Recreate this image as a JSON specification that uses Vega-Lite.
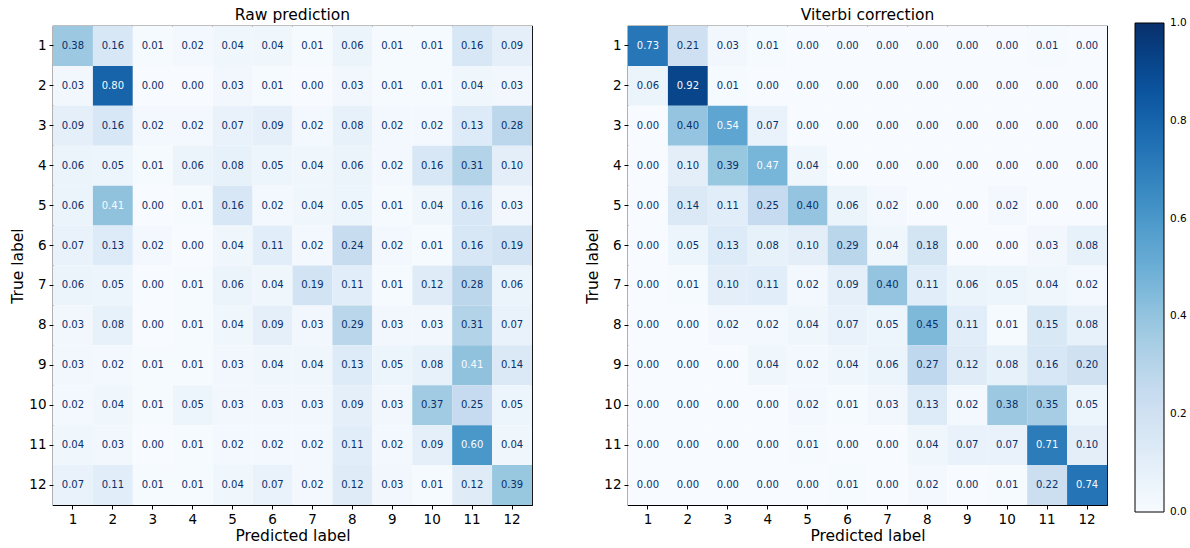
{
  "$schema": "https://vega.github.io/schema/vega-lite/v6.json",
  "padding": {"left": 10, "top": 6, "right": 5, "bottom": 5},
  "background": "white",
  "config": {
    "font": "DejaVu Sans",
    "view": {"stroke": "black", "strokeWidth": 1.2},
    "scale": {"bandPaddingInner": 0, "bandPaddingOuter": 0},
    "axis": {
      "domain": false,
      "grid": false,
      "tickColor": "black",
      "tickSize": 4,
      "tickWidth": 1,
      "labelColor": "black",
      "labelFontSize": 13.5,
      "labelPadding": 3,
      "titleColor": "black",
      "titleFontSize": 15.5,
      "titleFontWeight": "normal",
      "titlePadding": 3
    },
    "title": {"fontSize": 15.5, "fontWeight": "normal", "color": "black", "offset": 3}
  },
  "datasets": {
    "raw": [
      {"t":1,"p":1,"v":0.38},{"t":1,"p":2,"v":0.16},{"t":1,"p":3,"v":0.01},{"t":1,"p":4,"v":0.02},{"t":1,"p":5,"v":0.04},{"t":1,"p":6,"v":0.04},{"t":1,"p":7,"v":0.01},{"t":1,"p":8,"v":0.06},{"t":1,"p":9,"v":0.01},{"t":1,"p":10,"v":0.01},{"t":1,"p":11,"v":0.16},{"t":1,"p":12,"v":0.09},
      {"t":2,"p":1,"v":0.03},{"t":2,"p":2,"v":0.80},{"t":2,"p":3,"v":0.00},{"t":2,"p":4,"v":0.00},{"t":2,"p":5,"v":0.03},{"t":2,"p":6,"v":0.01},{"t":2,"p":7,"v":0.00},{"t":2,"p":8,"v":0.03},{"t":2,"p":9,"v":0.01},{"t":2,"p":10,"v":0.01},{"t":2,"p":11,"v":0.04},{"t":2,"p":12,"v":0.03},
      {"t":3,"p":1,"v":0.09},{"t":3,"p":2,"v":0.16},{"t":3,"p":3,"v":0.02},{"t":3,"p":4,"v":0.02},{"t":3,"p":5,"v":0.07},{"t":3,"p":6,"v":0.09},{"t":3,"p":7,"v":0.02},{"t":3,"p":8,"v":0.08},{"t":3,"p":9,"v":0.02},{"t":3,"p":10,"v":0.02},{"t":3,"p":11,"v":0.13},{"t":3,"p":12,"v":0.28},
      {"t":4,"p":1,"v":0.06},{"t":4,"p":2,"v":0.05},{"t":4,"p":3,"v":0.01},{"t":4,"p":4,"v":0.06},{"t":4,"p":5,"v":0.08},{"t":4,"p":6,"v":0.05},{"t":4,"p":7,"v":0.04},{"t":4,"p":8,"v":0.06},{"t":4,"p":9,"v":0.02},{"t":4,"p":10,"v":0.16},{"t":4,"p":11,"v":0.31},{"t":4,"p":12,"v":0.10},
      {"t":5,"p":1,"v":0.06},{"t":5,"p":2,"v":0.41},{"t":5,"p":3,"v":0.00},{"t":5,"p":4,"v":0.01},{"t":5,"p":5,"v":0.16},{"t":5,"p":6,"v":0.02},{"t":5,"p":7,"v":0.04},{"t":5,"p":8,"v":0.05},{"t":5,"p":9,"v":0.01},{"t":5,"p":10,"v":0.04},{"t":5,"p":11,"v":0.16},{"t":5,"p":12,"v":0.03},
      {"t":6,"p":1,"v":0.07},{"t":6,"p":2,"v":0.13},{"t":6,"p":3,"v":0.02},{"t":6,"p":4,"v":0.00},{"t":6,"p":5,"v":0.04},{"t":6,"p":6,"v":0.11},{"t":6,"p":7,"v":0.02},{"t":6,"p":8,"v":0.24},{"t":6,"p":9,"v":0.02},{"t":6,"p":10,"v":0.01},{"t":6,"p":11,"v":0.16},{"t":6,"p":12,"v":0.19},
      {"t":7,"p":1,"v":0.06},{"t":7,"p":2,"v":0.05},{"t":7,"p":3,"v":0.00},{"t":7,"p":4,"v":0.01},{"t":7,"p":5,"v":0.06},{"t":7,"p":6,"v":0.04},{"t":7,"p":7,"v":0.19},{"t":7,"p":8,"v":0.11},{"t":7,"p":9,"v":0.01},{"t":7,"p":10,"v":0.12},{"t":7,"p":11,"v":0.28},{"t":7,"p":12,"v":0.06},
      {"t":8,"p":1,"v":0.03},{"t":8,"p":2,"v":0.08},{"t":8,"p":3,"v":0.00},{"t":8,"p":4,"v":0.01},{"t":8,"p":5,"v":0.04},{"t":8,"p":6,"v":0.09},{"t":8,"p":7,"v":0.03},{"t":8,"p":8,"v":0.29},{"t":8,"p":9,"v":0.03},{"t":8,"p":10,"v":0.03},{"t":8,"p":11,"v":0.31},{"t":8,"p":12,"v":0.07},
      {"t":9,"p":1,"v":0.03},{"t":9,"p":2,"v":0.02},{"t":9,"p":3,"v":0.01},{"t":9,"p":4,"v":0.01},{"t":9,"p":5,"v":0.03},{"t":9,"p":6,"v":0.04},{"t":9,"p":7,"v":0.04},{"t":9,"p":8,"v":0.13},{"t":9,"p":9,"v":0.05},{"t":9,"p":10,"v":0.08},{"t":9,"p":11,"v":0.41},{"t":9,"p":12,"v":0.14},
      {"t":10,"p":1,"v":0.02},{"t":10,"p":2,"v":0.04},{"t":10,"p":3,"v":0.01},{"t":10,"p":4,"v":0.05},{"t":10,"p":5,"v":0.03},{"t":10,"p":6,"v":0.03},{"t":10,"p":7,"v":0.03},{"t":10,"p":8,"v":0.09},{"t":10,"p":9,"v":0.03},{"t":10,"p":10,"v":0.37},{"t":10,"p":11,"v":0.25},{"t":10,"p":12,"v":0.05},
      {"t":11,"p":1,"v":0.04},{"t":11,"p":2,"v":0.03},{"t":11,"p":3,"v":0.00},{"t":11,"p":4,"v":0.01},{"t":11,"p":5,"v":0.02},{"t":11,"p":6,"v":0.02},{"t":11,"p":7,"v":0.02},{"t":11,"p":8,"v":0.11},{"t":11,"p":9,"v":0.02},{"t":11,"p":10,"v":0.09},{"t":11,"p":11,"v":0.60},{"t":11,"p":12,"v":0.04},
      {"t":12,"p":1,"v":0.07},{"t":12,"p":2,"v":0.11},{"t":12,"p":3,"v":0.01},{"t":12,"p":4,"v":0.01},{"t":12,"p":5,"v":0.04},{"t":12,"p":6,"v":0.07},{"t":12,"p":7,"v":0.02},{"t":12,"p":8,"v":0.12},{"t":12,"p":9,"v":0.03},{"t":12,"p":10,"v":0.01},{"t":12,"p":11,"v":0.12},{"t":12,"p":12,"v":0.39}
    ],
    "viterbi": [
      {"t":1,"p":1,"v":0.73},{"t":1,"p":2,"v":0.21},{"t":1,"p":3,"v":0.03},{"t":1,"p":4,"v":0.01},{"t":1,"p":5,"v":0.00},{"t":1,"p":6,"v":0.00},{"t":1,"p":7,"v":0.00},{"t":1,"p":8,"v":0.00},{"t":1,"p":9,"v":0.00},{"t":1,"p":10,"v":0.00},{"t":1,"p":11,"v":0.01},{"t":1,"p":12,"v":0.00},
      {"t":2,"p":1,"v":0.06},{"t":2,"p":2,"v":0.92},{"t":2,"p":3,"v":0.01},{"t":2,"p":4,"v":0.00},{"t":2,"p":5,"v":0.00},{"t":2,"p":6,"v":0.00},{"t":2,"p":7,"v":0.00},{"t":2,"p":8,"v":0.00},{"t":2,"p":9,"v":0.00},{"t":2,"p":10,"v":0.00},{"t":2,"p":11,"v":0.00},{"t":2,"p":12,"v":0.00},
      {"t":3,"p":1,"v":0.00},{"t":3,"p":2,"v":0.40},{"t":3,"p":3,"v":0.54},{"t":3,"p":4,"v":0.07},{"t":3,"p":5,"v":0.00},{"t":3,"p":6,"v":0.00},{"t":3,"p":7,"v":0.00},{"t":3,"p":8,"v":0.00},{"t":3,"p":9,"v":0.00},{"t":3,"p":10,"v":0.00},{"t":3,"p":11,"v":0.00},{"t":3,"p":12,"v":0.00},
      {"t":4,"p":1,"v":0.00},{"t":4,"p":2,"v":0.10},{"t":4,"p":3,"v":0.39},{"t":4,"p":4,"v":0.47},{"t":4,"p":5,"v":0.04},{"t":4,"p":6,"v":0.00},{"t":4,"p":7,"v":0.00},{"t":4,"p":8,"v":0.00},{"t":4,"p":9,"v":0.00},{"t":4,"p":10,"v":0.00},{"t":4,"p":11,"v":0.00},{"t":4,"p":12,"v":0.00},
      {"t":5,"p":1,"v":0.00},{"t":5,"p":2,"v":0.14},{"t":5,"p":3,"v":0.11},{"t":5,"p":4,"v":0.25},{"t":5,"p":5,"v":0.40},{"t":5,"p":6,"v":0.06},{"t":5,"p":7,"v":0.02},{"t":5,"p":8,"v":0.00},{"t":5,"p":9,"v":0.00},{"t":5,"p":10,"v":0.02},{"t":5,"p":11,"v":0.00},{"t":5,"p":12,"v":0.00},
      {"t":6,"p":1,"v":0.00},{"t":6,"p":2,"v":0.05},{"t":6,"p":3,"v":0.13},{"t":6,"p":4,"v":0.08},{"t":6,"p":5,"v":0.10},{"t":6,"p":6,"v":0.29},{"t":6,"p":7,"v":0.04},{"t":6,"p":8,"v":0.18},{"t":6,"p":9,"v":0.00},{"t":6,"p":10,"v":0.00},{"t":6,"p":11,"v":0.03},{"t":6,"p":12,"v":0.08},
      {"t":7,"p":1,"v":0.00},{"t":7,"p":2,"v":0.01},{"t":7,"p":3,"v":0.10},{"t":7,"p":4,"v":0.11},{"t":7,"p":5,"v":0.02},{"t":7,"p":6,"v":0.09},{"t":7,"p":7,"v":0.40},{"t":7,"p":8,"v":0.11},{"t":7,"p":9,"v":0.06},{"t":7,"p":10,"v":0.05},{"t":7,"p":11,"v":0.04},{"t":7,"p":12,"v":0.02},
      {"t":8,"p":1,"v":0.00},{"t":8,"p":2,"v":0.00},{"t":8,"p":3,"v":0.02},{"t":8,"p":4,"v":0.02},{"t":8,"p":5,"v":0.04},{"t":8,"p":6,"v":0.07},{"t":8,"p":7,"v":0.05},{"t":8,"p":8,"v":0.45},{"t":8,"p":9,"v":0.11},{"t":8,"p":10,"v":0.01},{"t":8,"p":11,"v":0.15},{"t":8,"p":12,"v":0.08},
      {"t":9,"p":1,"v":0.00},{"t":9,"p":2,"v":0.00},{"t":9,"p":3,"v":0.00},{"t":9,"p":4,"v":0.04},{"t":9,"p":5,"v":0.02},{"t":9,"p":6,"v":0.04},{"t":9,"p":7,"v":0.06},{"t":9,"p":8,"v":0.27},{"t":9,"p":9,"v":0.12},{"t":9,"p":10,"v":0.08},{"t":9,"p":11,"v":0.16},{"t":9,"p":12,"v":0.20},
      {"t":10,"p":1,"v":0.00},{"t":10,"p":2,"v":0.00},{"t":10,"p":3,"v":0.00},{"t":10,"p":4,"v":0.00},{"t":10,"p":5,"v":0.02},{"t":10,"p":6,"v":0.01},{"t":10,"p":7,"v":0.03},{"t":10,"p":8,"v":0.13},{"t":10,"p":9,"v":0.02},{"t":10,"p":10,"v":0.38},{"t":10,"p":11,"v":0.35},{"t":10,"p":12,"v":0.05},
      {"t":11,"p":1,"v":0.00},{"t":11,"p":2,"v":0.00},{"t":11,"p":3,"v":0.00},{"t":11,"p":4,"v":0.00},{"t":11,"p":5,"v":0.01},{"t":11,"p":6,"v":0.00},{"t":11,"p":7,"v":0.00},{"t":11,"p":8,"v":0.04},{"t":11,"p":9,"v":0.07},{"t":11,"p":10,"v":0.07},{"t":11,"p":11,"v":0.71},{"t":11,"p":12,"v":0.10},
      {"t":12,"p":1,"v":0.00},{"t":12,"p":2,"v":0.00},{"t":12,"p":3,"v":0.00},{"t":12,"p":4,"v":0.00},{"t":12,"p":5,"v":0.00},{"t":12,"p":6,"v":0.01},{"t":12,"p":7,"v":0.00},{"t":12,"p":8,"v":0.02},{"t":12,"p":9,"v":0.00},{"t":12,"p":10,"v":0.01},{"t":12,"p":11,"v":0.22},{"t":12,"p":12,"v":0.74}
    ]
  },
  "spacing": 96,
  "bounds": "flush",
  "resolve": {"scale": {"color": "shared"}},
  "hconcat": [
    {
      "title": "Raw prediction",
      "width": 479,
      "height": 479,
      "data": {"name": "raw"},
      "encoding": {
        "x": {"field": "p", "type": "ordinal", "title": "Predicted label", "axis": {"labelAngle": 0}},
        "y": {"field": "t", "type": "ordinal", "title": "True label"}
      },
      "layer": [
        {
          "mark": {"type": "rect"},
          "encoding": {
            "color": {
              "field": "v",
              "type": "quantitative",
              "scale": {
                "domain": [0, 0.125, 0.25, 0.375, 0.5, 0.625, 0.75, 0.875, 1],
                "range": ["#f7fbff", "#deebf7", "#c6dbef", "#9ecae1", "#6baed6", "#4292c6", "#2171b5", "#08519c", "#08306b"],
                "interpolate": "rgb"
              },
              "legend": {
                "orient": "none",
                "legendX": 1082,
                "legendY": -3,
                "direction": "vertical",
                "title": null,
                "gradientLength": 489,
                "gradientThickness": 29,
                "gradientStrokeColor": "black",
                "gradientStrokeWidth": 1,
                "values": [0, 0.2, 0.4, 0.6, 0.8, 1.0],
                "format": ".1f",
                "labelFontSize": 10.5,
                "labelColor": "black",
                "labelOffset": 6,
                "encode": {"labels": {"update": {"baseline": {"value": "middle"}}}}
              }
            }
          }
        },
        {
          "mark": {"type": "text", "fontSize": 10},
          "encoding": {
            "text": {"field": "v", "type": "quantitative", "format": ".2f"},
            "color": {"condition": {"test": "datum.v > 0.4", "value": "#f7fbff"}, "value": "#08306b"}
          }
        }
      ]
    },
    {
      "title": "Viterbi correction",
      "width": 479,
      "height": 479,
      "data": {"name": "viterbi"},
      "encoding": {
        "x": {"field": "p", "type": "ordinal", "title": "Predicted label", "axis": {"labelAngle": 0}},
        "y": {"field": "t", "type": "ordinal", "title": "True label"}
      },
      "layer": [
        {
          "mark": {"type": "rect"},
          "encoding": {
            "color": {"field": "v", "type": "quantitative"}
          }
        },
        {
          "mark": {"type": "text", "fontSize": 10},
          "encoding": {
            "text": {"field": "v", "type": "quantitative", "format": ".2f"},
            "color": {"condition": {"test": "datum.v > 0.46", "value": "#f7fbff"}, "value": "#08306b"}
          }
        }
      ]
    }
  ]
}
